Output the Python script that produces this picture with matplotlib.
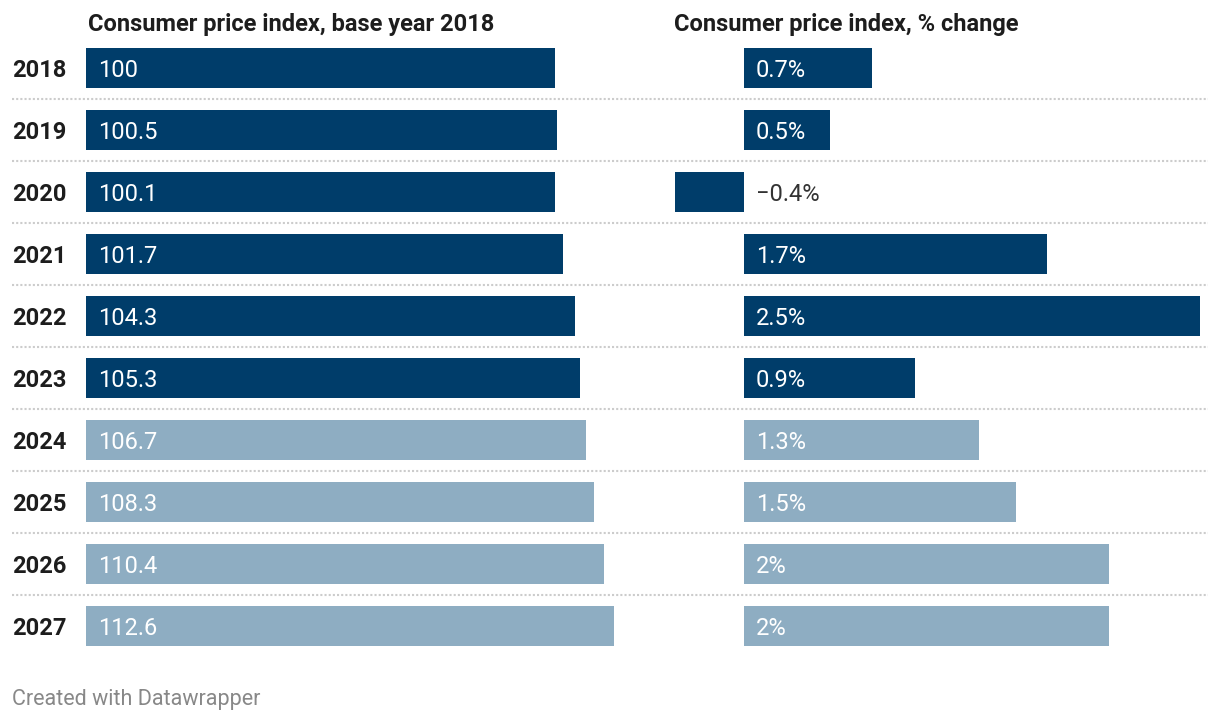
import matplotlib.pyplot as plt
from matplotlib.transforms import blended_transform_factory, offset_copy

plt.rcParams['font.family'] = ['Roboto', 'DejaVu Sans']

years = ['2018', '2019', '2020', '2021', '2022', '2023', '2024', '2025', '2026', '2027']
cpi_index = [100, 100.5, 100.1, 101.7, 104.3, 105.3, 106.7, 108.3, 110.4, 112.6]
index_labels = ['100', '100.5', '100.1', '101.7', '104.3', '105.3', '106.7', '108.3', '110.4', '112.6']
# bar lengths (labels are rounded)
cpi_change = [0.70, 0.47, -0.38, 1.66, 2.5, 0.94, 1.29, 1.49, 2.0, 2.0]
change_labels = ['0.7%', '0.5%', '\u22120.4%', '1.7%', '2.5%', '0.9%', '1.3%', '1.5%', '2%', '2%']
is_forecast = [False] * 6 + [True] * 4

dark = '#003d6a'
light = '#8eadc2'
colors = [light if f else dark for f in is_forecast]

W, H = 1220, 722
fig = plt.figure(figsize=(W / 100, H / 100), dpi=100)

n = len(years)
row_top = 37      # px
row_h = 62        # px per row
bar_h = 40 / 62
fs = 17
dy = -1.5         # points, nudge text down to visual centre

def ax_rect(x0, x1):
    return [x0 / W, 1 - (row_top + n * row_h) / H, (x1 - x0) / W, n * row_h / H]

# background axis for separators
bg = fig.add_axes(ax_rect(12, 1208))
bg.set_xlim(0, 1)
bg.set_ylim(n - 0.5, -0.5)
for i in range(n - 1):
    bg.axhline(i + 0.5, color='#cccccc', lw=1.5, ls=(0, (1, 1)))
bg.axis('off')

# left panel
axl = fig.add_axes(ax_rect(86, 614))
axl.barh(range(n), cpi_index, height=bar_h, color=colors)
axl.set_xlim(0, max(cpi_index))
axl.set_ylim(n - 0.5, -0.5)
axl.axis('off')
for i, lab in enumerate(index_labels):
    axl.annotate(lab, (0, i), xytext=(8.5, dy), textcoords='offset points',
                 va='center', ha='left', color='white', fontsize=fs)

# right panel
axr = fig.add_axes(ax_rect(674, 1200))
axr.barh(range(n), cpi_change, height=bar_h, color=colors)
axr.set_xlim(-0.384, 2.5)
axr.set_ylim(n - 0.5, -0.5)
axr.axis('off')
for i, (v, lab) in enumerate(zip(cpi_change, change_labels)):
    axr.annotate(lab, (0, i), xytext=(8.5, dy), textcoords='offset points',
                 va='center', ha='left', fontsize=fs,
                 color='white' if v > 0 else '#333333')

# year labels
tr = offset_copy(blended_transform_factory(fig.transFigure, axl.transData),
                 fig=fig, y=dy, units='points')
for i, y in enumerate(years):
    axl.text(12 / W, i, y, transform=tr, va='center', ha='left',
             fontsize=fs, fontweight='bold', color='#1d1d1d')

fig.text(88 / W, 1 - 25 / H, 'Consumer price index, base year 2018', fontsize=fs,
         fontweight='bold', color='#1d1d1d', va='center', ha='left')
fig.text(674 / W, 1 - 25 / H, 'Consumer price index, % change', fontsize=fs,
         fontweight='bold', color='#1d1d1d', va='center', ha='left')
fig.text(12 / W, 1 - 700 / H, 'Created with Datawrapper', fontsize=15.5,
         color='#888888', va='center', ha='left')

fig.savefig('out.png', dpi=100)
